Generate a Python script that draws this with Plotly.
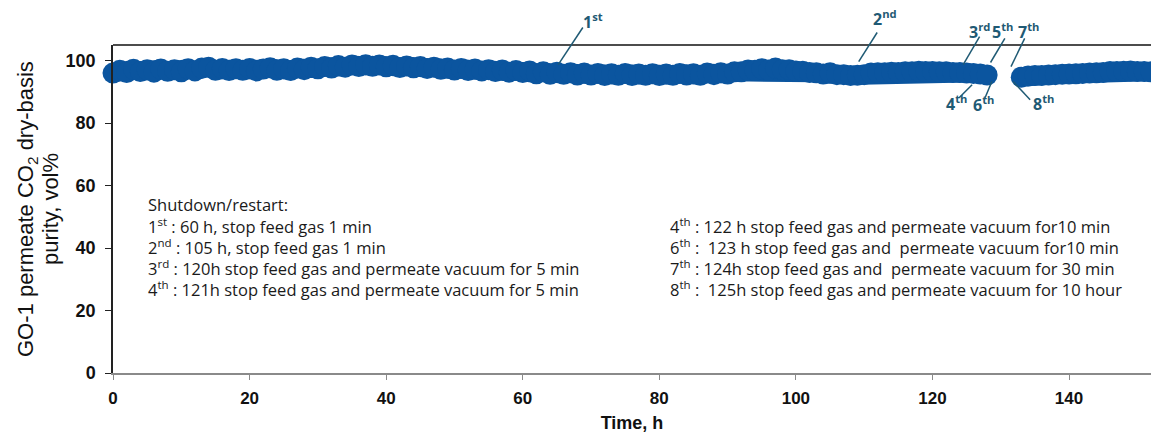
import plotly.graph_objects as go

# ---------------- data ----------------
time_seg1_h = list(range(0, 129))
purity_seg1 = [
    96.0, 96.9, 96.2, 97.2, 96.5, 97.1, 96.3, 97.3, 96.6, 97.1,
    96.4, 97.4, 96.7, 97.6, 97.9, 96.9, 97.5, 96.8, 97.4, 96.9,
    97.5, 96.7, 97.3, 97.7, 96.9, 97.4, 96.8, 97.6, 97.1, 97.9,
    97.4, 98.1, 97.6, 98.4, 97.9, 98.6, 98.1, 98.7, 98.2, 98.6,
    98.0, 98.5, 97.8, 98.3, 97.7, 98.1, 97.5, 97.9, 97.2, 97.6,
    97.0, 97.5, 96.8, 97.3, 96.7, 97.1, 96.5, 97.0, 96.3, 96.8,
    96.2, 96.7, 95.8, 96.4, 95.6, 96.3, 95.6, 96.1, 95.4, 96.0,
    95.4, 95.9, 95.2, 95.8, 95.3, 95.9, 95.2, 95.7, 95.3, 95.8,
    95.2, 95.7, 95.3, 95.9, 95.4, 95.8, 95.3, 96.0, 95.5, 96.1,
    95.7, 96.4, 96.4, 97.0, 96.9, 97.4, 97.0, 97.6, 97.1, 97.1,
    96.7, 96.6, 96.2, 96.1, 95.7, 96.1, 95.5, 95.5, 95.2, 95.3,
    95.5, 96.0, 96.1, 96.1, 96.3, 96.2, 96.4, 96.4, 96.6, 96.5,
    96.5, 96.4, 96.4, 96.2, 96.2, 96.0, 95.9, 95.7, 95.4,
]
time_seg2_h = list(range(133, 153))
purity_seg2 = [
    94.7, 95.1, 95.2, 95.2, 95.4, 95.5, 95.6, 95.7, 95.8, 95.9,
    96.0, 96.1, 96.2, 96.5, 96.5, 96.6, 96.7, 96.5, 96.5, 96.4,
]

x_ticks = [0, 20, 40, 60, 80, 100, 120, 140]
y_ticks = [0, 20, 40, 60, 80, 100]
x_range = [0, 152]
y_range = [0, 105]

# event labels and their leader lines (in hours / vol%)
event_labels = ["1<sup>st</sup>", "2<sup>nd</sup>", "3<sup>rd</sup>", "5<sup>th</sup>",
                "7<sup>th</sup>", "4<sup>th</sup>", "6<sup>th</sup>", "8<sup>th</sup>"]
event_label_x = [70.3, 113.1, 126.9, 130.3, 134.0, 123.5, 127.5, 136.3]
event_label_y = [112.8, 113.6, 109.6, 109.6, 109.6, 86.3, 86.0, 86.3]
leader_x0 = [68.8, 111.9, 126.9, 130.6, 133.5, 125.8, 128.7, 131.8]
leader_y0 = [110.6, 109.0, 107.7, 107.1, 107.1, 92.3, 93.3, 93.3]
leader_x1 = [65.2, 109.2, 124.5, 128.5, 131.5, 123.9, 127.7, 134.3]
leader_y1 = [98.7, 99.7, 98.7, 99.4, 98.1, 88.1, 88.1, 87.5]

notes_left = [
    "Shutdown/restart:",
    "1<sup>st</sup> : 60 h, stop feed gas 1 min",
    "2<sup>nd</sup> : 105 h, stop feed gas 1 min",
    "3<sup>rd</sup> : 120h stop feed gas and permeate vacuum for 5 min",
    "4<sup>th</sup> : 121h stop feed gas and permeate vacuum for 5 min",
]
notes_right = [
    "4<sup>th</sup> : 122 h stop feed gas and permeate vacuum for10 min",
    "6<sup>th</sup> :  123 h stop feed gas and  permeate vacuum for10 min",
    "7<sup>th</sup> : 124h stop feed gas and  permeate vacuum for 30 min",
    "8<sup>th</sup> :  125h stop feed gas and permeate vacuum for 10 hour",
]
notes_line_y = [53.8, 47.1, 40.4, 33.7, 26.9]
notes_left_x = 4.8
notes_right_x = 81.2

y_title_lines = ["GO-1 permeate CO<sub>2</sub> dry-basis", "purity, vol%"]

# ---------------- figure ----------------
BLUE = "#0b559f"
LABEL = "#1f5a74"

fig = go.Figure()
for tx, ty in [(time_seg1_h, purity_seg1), (time_seg2_h, purity_seg2)]:
    fig.add_trace(go.Scatter(
        x=tx, y=ty, mode="lines+markers",
        line=dict(color=BLUE, width=19),
        marker=dict(color=BLUE, size=21),
        showlegend=False, hoverinfo="skip", cliponaxis=False,
    ))

def px(x):
    return (x - x_range[0]) / (x_range[1] - x_range[0])

def py(y):
    return (y - y_range[0]) / (y_range[1] - y_range[0])

shapes = []
shapes.append(dict(type="line", xref="paper", yref="paper", x0=0, x1=1, y0=1, y1=1,
                   line=dict(color="#111111", width=1.6)))
for i in range(len(event_labels)):
    shapes.append(dict(type="line", xref="paper", yref="paper",
                       x0=px(leader_x0[i]), y0=py(leader_y0[i]),
                       x1=px(leader_x1[i]), y1=py(leader_y1[i]),
                       line=dict(color=LABEL, width=1.5)))

annotations = []
for i in range(len(event_labels)):
    annotations.append(dict(xref="paper", yref="paper",
                            x=px(event_label_x[i]), y=py(event_label_y[i]),
                            text="<b>" + event_labels[i] + "</b>", showarrow=False,
                            xanchor="center", yanchor="middle",
                            font=dict(family="Open Sans", size=16, color=LABEL)))
for i, t in enumerate(notes_left):
    annotations.append(dict(xref="x", yref="y", x=notes_left_x, y=notes_line_y[i], text=t,
                            showarrow=False, xanchor="left", yanchor="middle",
                            font=dict(family="Open Sans", size=16.5, color="#1a1a1a")))
for i, t in enumerate(notes_right):
    annotations.append(dict(xref="x", yref="y", x=notes_right_x, y=notes_line_y[i + 1], text=t,
                            showarrow=False, xanchor="left", yanchor="middle",
                            font=dict(family="Open Sans", size=16.5, color="#1a1a1a")))
for i, (t, cx) in enumerate(zip(y_title_lines, [27, 50])):
    annotations.append(dict(xref="paper", yref="paper", x=(cx - 113) / 1038, y=0.50,
                            text=t, textangle=-90, showarrow=False,
                            xanchor="center", yanchor="middle",
                            font=dict(family="Liberation Sans, Arial", size=22, color="#111111")))

fig.update_layout(
    width=1151, height=439,
    margin=dict(l=113, r=0, t=45, b=66),
    paper_bgcolor="white", plot_bgcolor="white",
    shapes=shapes, annotations=annotations,
    xaxis=dict(range=x_range, tickvals=x_ticks, showgrid=False, zeroline=False,
               showline=True, linecolor="#8a8a8a", linewidth=2,
               ticks="outside", ticklen=5, tickcolor="#8a8a8a", tickwidth=1,
               ticklabelstandoff=4,
               tickfont=dict(family="Liberation Sans, Arial", size=17, color="#111111", weight="bold"),
               title=dict(text="<b>Time, h</b>", standoff=9,
                          font=dict(family="Liberation Sans, Arial", size=18, color="#111111"))),
    yaxis=dict(range=y_range, tickvals=y_ticks, showgrid=False, zeroline=False,
               showline=True, linecolor="#222222", linewidth=1.5,
               ticks="outside", ticklen=6, tickcolor="#222222", tickwidth=1,
               ticklabelstandoff=6,
               tickfont=dict(family="Liberation Sans, Arial", size=18, color="#111111", weight="bold")),
)

fig.write_html("out.html")
